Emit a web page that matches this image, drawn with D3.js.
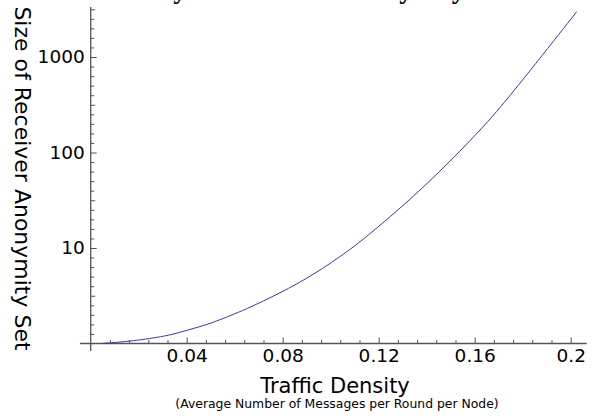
<!DOCTYPE html>
<html>
<head>
<meta charset="utf-8">
<script src="https://cdn.jsdelivr.net/npm/d3@7"></script>
<style>
  html, body { margin: 0; padding: 0; background: #fff; }
  #wrapper { width: 596px; height: 416px; overflow: hidden; }
</style>
</head>
<body>
<div id="wrapper"></div>
<script>
// # Data
const density = [0.0046, 0.0178, 0.0317, 0.0372, 0.0455, 0.0511, 0.065, 0.0789, 0.0928,
  0.108, 0.1164, 0.133, 0.1497, 0.1661, 0.1789, 0.2025];
const anonymitySetSize = [1.0, 1.06, 1.2, 1.31, 1.5, 1.66, 2.29, 3.37, 5.22,
  9.53, 14.1, 31.8, 80.1, 215, 528, 2980];

const xMajorTicks = [0.04, 0.08, 0.12, 0.16, 0.2];
const xTickLabels = ["0.04", "0.08", "0.12", "0.16", "0.2"];
const xMinorStep = 0.008;
const yMajorTicks = [10, 100, 1000];
const yTickLabels = ["10", "100", "1000"];

const titleText = "Traffic Density vs. Receiver Anonymity";
const xLabel = "Traffic Density";
const xSubLabel = "(Average Number of Messages per Round per Node)";
const yLabel = "Size of Receiver Anonymity Set";

// # Dimensions
const dimensions = {
  width: 596,
  height: 416,
};

// extents of the drawn axis lines, in data units
const xAxisExtent = [-0.0045, 0.2067];
const yAxisExtent = [0.835, 3340];

const axisColor = "#555";
const lineColor = "#3a3aa8";

// # Canvas
const wrapper = d3.select("#wrapper")
  .append("svg")
  .attr("width", dimensions.width)
  .attr("height", dimensions.height);

// # Scales
const xScale = d3.scaleLinear()
  .domain([0, 0.2])
  .range([90.7, 570.7]);

const yScale = d3.scaleLog()
  .domain([1, 1000])
  .range([343.5, 57]);

// # Axis lines (they cross at x = 0, y = 1)
wrapper.append("line")
  .attr("x1", xScale(xAxisExtent[0]))
  .attr("x2", xScale(xAxisExtent[1]))
  .attr("y1", yScale(1))
  .attr("y2", yScale(1))
  .attr("stroke", axisColor)
  .attr("stroke-width", 1.3);

wrapper.append("line")
  .attr("x1", xScale(0))
  .attr("x2", xScale(0))
  .attr("y1", yScale(yAxisExtent[0]))
  .attr("y2", yScale(yAxisExtent[1]))
  .attr("stroke", axisColor)
  .attr("stroke-width", 1.3);

// # X ticks (pointing up)
const xMinor = d3.range(1, 26).map(i => +(i * xMinorStep).toFixed(3))
  .filter(v => xMajorTicks.indexOf(v) < 0 && v <= xAxisExtent[1]);

const xMinorAxis = d3.axisBottom(xScale)
  .tickValues(xMinor)
  .tickSize(-3.5)
  .tickFormat("");

wrapper.append("g")
  .attr("transform", `translate(0, ${yScale(1)})`)
  .call(xMinorAxis)
  .call(g => g.select(".domain").remove())
  .call(g => g.selectAll("line").attr("stroke", axisColor));

const xMajorAxis = d3.axisBottom(xScale)
  .tickValues(xMajorTicks)
  .tickSize(-6)
  .tickPadding(5)
  .tickFormat((d, i) => xTickLabels[i]);

wrapper.append("g")
  .attr("transform", `translate(0, ${yScale(1)})`)
  .call(xMajorAxis)
  .call(g => g.select(".domain").remove())
  .call(g => g.selectAll("line").attr("stroke", axisColor))
  .call(g => g.selectAll("text")
    .attr("fill", "#000")
    .style("font-family", "DejaVu Sans")
    .style("font-size", "18.5px"));

// # Y ticks (pointing right), ten per decade in log space
const yMinor = [];
d3.range(0, 36).forEach(i => {
  const v = Math.pow(10, i / 10);
  if (i % 10 !== 0 && v <= yAxisExtent[1]) yMinor.push(v);
});

const yMinorAxis = d3.axisLeft(yScale)
  .tickValues(yMinor)
  .tickSize(-3.5)
  .tickFormat("");

wrapper.append("g")
  .attr("transform", `translate(${xScale(0)}, 0)`)
  .call(yMinorAxis)
  .call(g => g.select(".domain").remove())
  .call(g => g.selectAll("line")
    .attr("stroke", axisColor)
    .attr("x2", d => (Math.round(Math.log10(d) * 10) % 10 === 5 ? 4.5 : 3.5)));

const yMajorAxis = d3.axisLeft(yScale)
  .tickValues(yMajorTicks)
  .tickSize(-6)
  .tickPadding(6)
  .tickFormat((d, i) => yTickLabels[i]);

wrapper.append("g")
  .attr("transform", `translate(${xScale(0)}, 0)`)
  .call(yMajorAxis)
  .call(g => g.select(".domain").remove())
  .call(g => g.selectAll("line").attr("stroke", axisColor))
  .call(g => g.selectAll("text")
    .attr("fill", "#000")
    .style("font-family", "DejaVu Sans")
    .style("font-size", "18.5px"));

// # Curve
const points = density.map((d, i) => [d, anonymitySetSize[i]]);

const lineGenerator = d3.line()
  .x(d => xScale(d[0]))
  .y(d => yScale(d[1]))
  .curve(d3.curveBasis);

wrapper.append("path")
  .datum(points)
  .attr("d", lineGenerator)
  .attr("fill", "none")
  .attr("stroke", lineColor)
  .attr("stroke-width", 1);

// # Labels
// the title sits above the top edge, only its descenders show (as in the reference)
wrapper.append("text")
  .attr("x", 14)
  .attr("y", -2)
  .style("font-family", "Liberation Serif")
  .style("font-weight", "bold")
  .style("font-size", "27px")
  .attr("fill", "#000")
  .text(titleText);

wrapper.append("text")
  .attr("x", 335)
  .attr("y", 393)
  .attr("text-anchor", "middle")
  .style("font-family", "DejaVu Sans")
  .style("font-size", "21px")
  .attr("fill", "#000")
  .text(xLabel);

wrapper.append("text")
  .attr("x", 337)
  .attr("y", 408)
  .attr("text-anchor", "middle")
  .style("font-family", "DejaVu Sans")
  .style("font-size", "12.4px")
  .attr("fill", "#000")
  .text(xSubLabel);

wrapper.append("text")
  .attr("transform", "translate(15, 178.5) rotate(90)")
  .attr("text-anchor", "middle")
  .style("font-family", "DejaVu Sans")
  .style("font-size", "22px")
  .attr("fill", "#000")
  .text(yLabel);
</script>
</body>
</html>
